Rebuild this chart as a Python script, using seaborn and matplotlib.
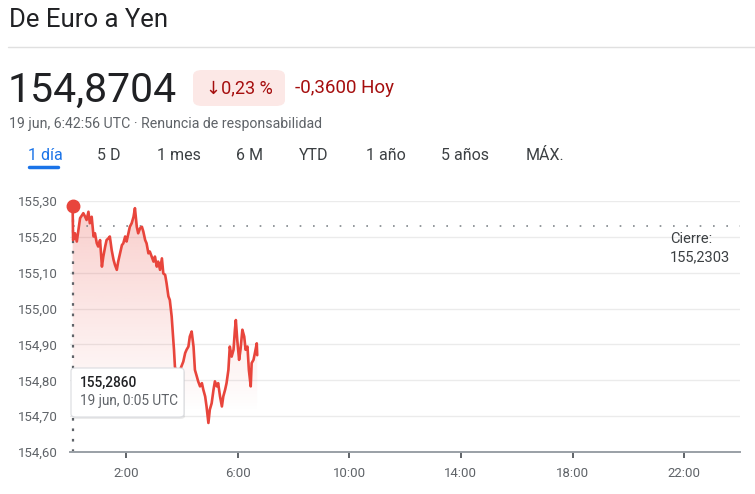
import numpy as np
import pandas as pd
import matplotlib
matplotlib.use("Agg")
import matplotlib.pyplot as plt
import seaborn as sns
from matplotlib.patches import FancyBboxPatch
from matplotlib.ticker import FuncFormatter

# ---------------- data ----------------
minutes = [5, 6, 10, 14, 21, 28, 32, 35, 39, 42, 46, 50, 53, 57, 60, 64, 68, 71, 75, 78, 82, 85,
           89, 93, 96, 100, 103, 107, 111, 114, 118, 121, 125, 128, 132, 136, 139, 143, 146, 150,
           154, 157, 161, 164, 168, 171, 175, 179, 182, 186, 189, 193, 197, 200, 204, 207, 211,
           214, 218, 222, 223, 225, 229, 236, 243, 247, 250, 254, 257, 261, 265, 268, 272, 275,
           279, 283, 286, 290, 293, 297, 300, 304, 308, 311, 315, 318, 322, 326, 329, 333, 336,
           340, 343, 347, 351, 354, 356, 359, 363, 366, 370, 374, 377, 381, 384, 388, 390, 394,
           397, 401, 402]
prices = [155.286, 155.191, 155.210, 155.187, 155.252, 155.266, 155.256, 155.247, 155.270, 155.238,
          155.256, 155.201, 155.210, 155.182, 155.173, 155.191, 155.117, 155.145, 155.173, 155.191,
          155.196, 155.201, 155.163, 155.136, 155.122, 155.108, 155.131, 155.154, 155.177, 155.182,
          155.201, 155.187, 155.210, 155.228, 155.238, 155.256, 155.280, 155.228, 155.210, 155.224,
          155.228, 155.215, 155.191, 155.182, 155.154, 155.159, 155.145, 155.131, 155.145, 155.117,
          155.131, 155.108, 155.140, 155.098, 155.094, 155.071, 155.034, 155.024, 154.978, 154.903,
          154.885, 154.838, 154.820, 154.829, 154.852, 154.876, 154.885, 154.894, 154.922, 154.936,
          154.894, 154.829, 154.811, 154.797, 154.783, 154.792, 154.774, 154.755, 154.727, 154.681,
          154.718, 154.736, 154.774, 154.797, 154.783, 154.792, 154.755, 154.727, 154.755, 154.774,
          154.792, 154.829, 154.894, 154.866, 154.885, 154.941, 154.968, 154.913, 154.857, 154.885,
          154.941, 154.922, 154.885, 154.894, 154.829, 154.783, 154.848, 154.857, 154.876, 154.903,
          154.870]
current_price = 154.8704
prev_close = 155.2303
y_ticks = [154.60, 154.70, 154.80, 154.90, 155.00, 155.10, 155.20, 155.30]
x_ticks = [120, 360, 600, 840, 1080, 1320]
x_labels = ["2:00", "6:00", "10:00", "14:00", "18:00", "22:00"]
tabs = ["1 día", "5 D", "1 mes", "6 M", "YTD", "1 año", "5 años", "MÁX."]
tab_x = [28, 97, 157, 236, 299, 366, 441, 526]

df = pd.DataFrame({"min": minutes, "price": prices})

# ---------------- style ----------------
sns.set_theme(style="white")
plt.rcParams['font.family'] = ['Roboto', 'DejaVu Sans']

W, H = 755, 494
fig = plt.figure(figsize=(W / 100, H / 100), dpi=100)
fx = lambda px: px / W
fy = lambda py: 1 - py / H

RED = "#e8453c"
GRAY = "#5f6368"
DARK = "#202124"

ax = fig.add_axes([fx(70.3), fy(452), fx(739.9) - fx(70.3), (452 - 201) / H])
ax.set_xlim(0, 1440)
ax.set_ylim(154.60, 155.30)

# gradient fill under line
poly = ax.fill_between(df["min"], df["price"], 154.60, color="none", lw=0)
grad = np.zeros((256, 2, 4))
grad[..., 0] = 232 / 255
grad[..., 1] = 69 / 255
grad[..., 2] = 60 / 255
alpha = np.clip(np.linspace(-0.05, 0.27, 256), 0, None)
grad[..., 3] = alpha[:, None]
im = ax.imshow(grad, extent=[0, 1440, 154.60, 155.30], aspect="auto", origin="lower", zorder=1)
im.set_clip_path(poly.get_paths()[0], transform=ax.transData)

sns.lineplot(data=df, x="min", y="price", ax=ax, color=RED, linewidth=1.9, zorder=3)

# previous close dotted line
ax.axhline(prev_close, xmin=df["min"][0] / 1440, color="#80868b", lw=1.2,
           ls=(0, (1, 7)), zorder=2)
# vertical dotted line at start point
ax.plot([df["min"][0], df["min"][0]], [154.60, df["price"][0]], color="#5f6368", lw=1.6,
        ls=(0, (1.2, 3.5)), zorder=2)
ax.plot([df["min"][0]], [df["price"][0]], marker="o", ms=9, color=RED, zorder=5, clip_on=False)

# axes styling
for s in ["top", "right", "left"]:
    ax.spines[s].set_visible(False)
ax.spines["bottom"].set_color("#9aa0a6")
ax.spines["bottom"].set_linewidth(1.4)
ax.set_yticks(y_ticks)
ax.yaxis.set_major_formatter(FuncFormatter(lambda v, p: f"{v:.2f}".replace(".", ",")))
ax.set_xticks(x_ticks)
ax.set_xticklabels(x_labels)
ax.grid(axis="y", color="#ebebeb", lw=1)
ax.grid(axis="x", visible=False)
ax.tick_params(axis="y", length=0, pad=9, labelsize=9.5, labelcolor=GRAY)
ax.tick_params(axis="x", length=4.5, width=1.4, color="#5f6368", direction="out",
               pad=6, labelsize=9.5, labelcolor=GRAY, bottom=True)
ax.set_xlabel("")
ax.set_ylabel("")

# tooltip
tip = FancyBboxPatch((fx(71), fy(417)), fx(184) - fx(71), (417 - 368) / H,
                     boxstyle="round,pad=0,rounding_size=0.006", transform=fig.transFigure,
                     facecolor="white", edgecolor="#dadce0", lw=0.8, zorder=10)
shadow = FancyBboxPatch((fx(72), fy(419)), fx(184) - fx(71), (417 - 368) / H,
                        boxstyle="round,pad=0,rounding_size=0.006", transform=fig.transFigure,
                        facecolor="#000000", alpha=0.08, lw=0, zorder=9)
fig.patches.extend([shadow, tip])
fig.text(fx(80), fy(383), f"{df['price'][0]:.4f}".replace(".", ","), fontsize=9.8,
         color=DARK, va="center", fontweight="medium", zorder=11)
fig.text(fx(80), fy(401), "19 jun, 0:05 UTC", fontsize=9.8, color=GRAY, va="center", zorder=11)

# close label
fig.text(fx(670), fy(239), "Cierre:", fontsize=10.5, color="#3c4043", va="center")
fig.text(fx(670), fy(257), f"{prev_close:.4f}".replace(".", ","), fontsize=10.5,
         color="#3c4043", va="center")

# header
fig.text(fx(9), fy(20), "De Euro a Yen", fontsize=18.5, color=DARK, va="center")
fig.add_artist(plt.Line2D([fx(8), fx(755)], [fy(47), fy(47)], color="#e0e0e0", lw=1))
fig.text(fx(8), fy(90), f"{current_price:.4f}".replace(".", ","), fontsize=29.5, color=DARK,
         va="center")
badge = FancyBboxPatch((fx(193), fy(106)), fx(285) - fx(193), 36 / H,
                       boxstyle="round,pad=0,rounding_size=0.012", transform=fig.transFigure,
                       facecolor="#fce8e6", lw=0)
fig.patches.append(badge)
fig.text(fx(239), fy(88), "↓0,23 %", fontsize=13, color="#a50e0e", va="center", ha="center")
fig.text(fx(295), fy(88), "-0,3600 Hoy", fontsize=13.5, color="#a50e0e", va="center")
fig.text(fx(9), fy(124), "19 jun, 6:42:56 UTC · Renuncia de responsabilidad", fontsize=10.2,
         color=GRAY, va="center")

for lbl, x in zip(tabs, tab_x):
    c = "#1a73e8" if lbl == "1 día" else "#3c4043"
    fig.text(fx(x), fy(155), lbl, fontsize=11.5, color=c, va="center")
fig.add_artist(plt.Line2D([fx(29), fx(58)], [fy(167), fy(167)], color="#1a73e8", lw=2.5,
                          solid_capstyle="round"))

fig.savefig("out.png", dpi=100, facecolor="white")
